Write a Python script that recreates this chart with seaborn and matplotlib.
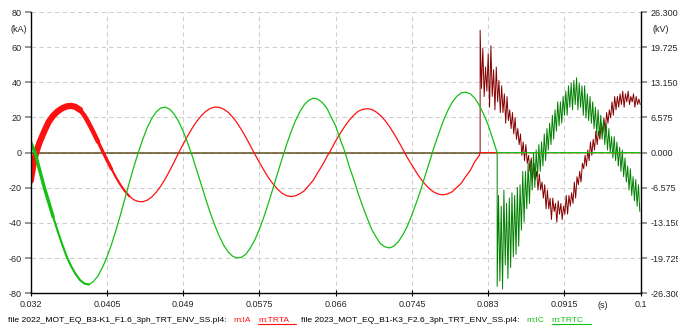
import numpy as np
import matplotlib
matplotlib.use("Agg")
import matplotlib.pyplot as plt
import seaborn as sns
from matplotlib.lines import Line2D

# --- currents (kA), time in ms ---
t_ia = ([32.0, 32.3, 32.6, 33.0, 33.5, 34.0, 34.5, 35.0, 35.5, 36.0, 36.5, 37.0, 37.5, 38.0, 38.5,
         39.0, 39.5, 40.0, 40.5] + list(np.arange(41.0, 82.01, 0.5)) + [82.1, 100.0])
ia = [-16, -7, 0, 6, 12, 17.5, 21, 23.5, 25.2, 26.3, 26.6, 26.0, 24.3, 21.0, 16.5,
      11.5, 6.3, 1.0, -4.2,
      -9.2, -14.0, -18.3, -21.9, -24.8, -26.8, -27.8, -27.9, -27.0, -25.2,
      -22.5, -19.0, -14.9, -10.2, -5.2, 0.0, 4.8, 9.5, 13.9, 17.7,
      20.9, 23.4, 25.1, 25.9, 25.8, 24.8, 23.0, 20.3, 17.0, 13.0,
      8.6, 3.8, -1.0, -5.6, -10.0, -14.2, -17.7, -20.7, -23.0, -24.4,
      -25.0, -24.6, -23.4, -21.7, -18.7, -15.7, -11.3, -7.3, -2.5, 1.9,
      6.7, 10.9, 14.9, 18.4, 21.2, 23.5, 24.6, 25.0, 24.6, 23.2,
      21.1, 18.3, 14.8, 10.8, 6.4, 1.8, -3.0, -7.1, -11.3, -15.0,
      -18.2, -20.8, -22.6, -23.7, -24.0, -23.4, -22.2, -19.8, -17.4, -13.5,
      -10.1, -5.2, -1.6,
      0, 0]

t_ic = list(np.arange(32.0, 83.51, 0.5)) + [84.0, 100.0]
ic = [5.8, -0.2, -10, -19.5, -28, -36.5, -44.5, -52, -59, -64.5, -69, -72.5, -74.5, -75,
      -73.3, -70.1, -65.3, -59.4, -52.3, -44.2, -35.5, -26.2, -16.9, -8.0,
      0.2, 7.7, 14.3, 19.5, 23.2, 25.4, 25.9, 24.7, 21.9, 17.7,
      12.1, 5.5, -1.8, -9.8, -18.0, -26.2, -34.0, -41.0, -47.3, -52.5,
      -56.4, -58.9, -59.9, -59.5, -57.7, -54.1, -49.5, -43.5, -36.5, -28.7,
      -20.5, -12.1, -3.8, 4.2, 11.5, 18.0, 23.2, 27.3, 29.8, 31.0,
      30.4, 28.5, 25.4, 20.3, 15.1, 7.7, 0.8, -7.7, -15.0, -23.1,
      -30.4, -37.1, -43.5, -48.0, -51.9, -53.6, -54.2, -53.1, -50.5, -46.6,
      -41.7, -35.3, -28.3, -20.9, -12.6, -4.6, 3.7, 11.0, 18.1, 24.0,
      28.8, 32.0, 34.0, 34.4, 33.5, 31.0, 27.0, 21.8, 15.7, 8.0,
      0, 0]

# --- transient recovery voltages (kV), sampled every 0.15 ms after the jump ---
volt_step = 0.15
trta_jump = 82.1
trta = [22.9, 12.0, 19.5, 10.5, 16.0, 11.5, 18.5, 8.5, 20.0, 10.5, 15.5, 8.0, 16.0, 9.5, 13.5, 7.5,
        12.5, 7.5, 11.0, 5.5, 10.5, 6.0, 8.0, 4.5, 7.5, 3.5, 6.5, 2.5, 4.5, 1.5, 3.5, -0.5,
        2.0, -1.5, 1.5, -2.0, -0.5, -3.5, -1.0, -5.0, -2.0, -5.0, -3.5, -7.0, -4.0, -7.0, -5.5, -8.5,
        -6.0, -10.5, -7.0, -10.5, -8.5, -12.5, -8.5, -11.0, -9.5, -13.0, -9.0, -11.5, -9.5, -12.5, -10.0, -11.5,
        -8.0, -11.5, -8.0, -10.0, -7.5, -9.5, -5.5, -8.5, -4.5, -6.0, -3.5, -5.5, -2.0, -3.0, -0.5, -2.5,
        0.5, -1.5, 2.0, -0.5, 2.5, 0.5, 4.0, 1.5, 4.0, 2.5, 5.5, 3.5, 6.5, 4.0, 7.5, 5.5,
        8.0, 6.5, 9.5, 7.0, 10.5, 8.0, 10.5, 8.5, 11.0, 9.0, 11.5, 8.5, 11.0, 9.5, 11.5, 9.0,
        10.5, 9.5, 11.0, 8.5, 10.5, 9.0, 10.0, 9.0]
trtc_jump = 84.0
trtc = [-25.0, -8.0, -24.0, -10.0, -25.5, -7.0, -21.0, -9.5, -23.5, -8.5, -21.5, -7.5, -19.5, -8.0, -19.0, -6.5,
        -17.5, -6.0, -14.5, -3.5, -13.0, -3.5, -10.5, -2.0, -9.5, -1.5, -7.0, 0.0, -6.5, 0.5, -4.5, 1.5,
        -3.5, 2.0, -2.5, 3.5, -1.5, 4.5, 0.5, 5.5, 1.5, 7.0, 2.5, 8.0, 4.0, 9.5, 5.0, 9.5,
        5.5, 10.5, 7.0, 11.5, 7.0, 12.5, 8.5, 13.0, 8.0, 13.5, 9.0, 14.0, 8.0, 13.0, 8.5, 12.5,
        7.0, 12.5, 6.5, 11.0, 6.0, 10.5, 5.5, 9.5, 4.5, 8.5, 3.5, 8.0, 3.0, 7.0, 2.5, 6.0,
        1.5, 5.5, 0.5, 4.5, 0.0, 3.0, -1.0, 3.0, -1.5, 2.0, -2.5, 1.0, -3.5, 0.5, -4.5, -1.0,
        -5.5, -2.5, -7.0, -3.0, -8.0, -4.5, -9.0, -5.0, -10.0, -6.0, -11.0]

x_ticks = [0.032, 0.0405, 0.049, 0.0575, 0.066, 0.0745, 0.083, 0.0915, 0.1]
x_labels = ['0.032', '0.0405', '0.049', '0.0575', '0.066', '0.0745', '0.083', '0.0915', '0.1']
ka_ticks = [80, 60, 40, 20, 0, -20, -40, -60, -80]
kv_ticks = [26.3, 19.725, 13.15, 6.575, 0.0, -6.575, -13.15, -19.725, -26.3]
kv_labels = ['26.300', '19.725', '13.150', '6.575', '0.000', '-6.575', '-13.150', '-19.725', '-26.300']

legend_texts = ['file 2022_MOT_EQ_B3-K1_F1.6_3ph_TRT_ENV_SS.pl4:', 'm:IA', 'm:TRTA',
                'file 2023_MOT_EQ_B1-K3_F2.6_3ph_TRT_ENV_SS.pl4:', 'm:IC', 'm:TRTC']

RED = '#ff1010'
GREEN = '#14c014'
DRED = '#850000'
DGREEN = '#008000'

sns.set_style("white")
plt.rcParams['font.family'] = ['Liberation Sans', 'DejaVu Sans']
plt.rcParams['font.size'] = 6.5

W, H = 678, 328
fig = plt.figure(figsize=(W / 100, H / 100), dpi=100)
ax = fig.add_axes([30.7 / W, 34.7 / H, 610 / W, 281.3 / H])
ax2 = ax.twinx()
ax.set_zorder(ax2.get_zorder() + 1)
ax.patch.set_visible(False)

# voltages on the right axis (drawn underneath the currents)
t_a = np.concatenate([[32.0, trta_jump], trta_jump + volt_step * np.arange(len(trta))]) / 1000
v_a = np.concatenate([[0, 0], trta])
t_c = np.concatenate([[32.0, trtc_jump], trtc_jump + volt_step * np.arange(len(trtc))]) / 1000
v_c = np.concatenate([[0, 0], trtc])

sns.lineplot(x=t_c[:2], y=v_c[:2], ax=ax2, color=DGREEN, lw=1.1, alpha=0.6, estimator=None, sort=False)
sns.lineplot(x=t_a[:2], y=v_a[:2], ax=ax2, color=DRED, lw=1.1, alpha=0.5, estimator=None, sort=False)
sns.lineplot(x=t_a[1:], y=v_a[1:], ax=ax2, color=DRED, lw=0.7, estimator=None, sort=False)
sns.lineplot(x=t_c[1:], y=v_c[1:], ax=ax2, color=DGREEN, lw=0.7, estimator=None, sort=False)

# currents on the left axis
t_ia_s = np.array(t_ia) / 1000
t_ic_s = np.array(t_ic) / 1000
ia_arr = np.array(ia)
ic_arr = np.array(ic)
sns.lineplot(x=t_ia_s, y=ia_arr, ax=ax, color=RED, lw=0.9, estimator=None, sort=False)
# numerical noise makes the first cycle look like a thick band
for t_end, lw in [(37.5, 4.5), (39.5, 3.3), (41.0, 2.3), (43.0, 1.5)]:
    m = t_ia_s <= t_end / 1000
    sns.lineplot(x=t_ia_s[m], y=ia_arr[m], ax=ax, color=RED, lw=lw, estimator=None, sort=False)
sns.lineplot(x=t_ic_s, y=ic_arr, ax=ax, color=GREEN, lw=0.9, estimator=None, sort=False)
for t_end, lw in [(34.5, 2.4), (38.5, 1.5)]:
    m = t_ic_s <= t_end / 1000
    sns.lineplot(x=t_ic_s[m], y=ic_arr[m], ax=ax, color=GREEN, lw=lw, estimator=None, sort=False)

ax.set_xlim(0.032, 0.1)
ax.set_ylim(-80, 80)
ax2.set_ylim(-26.3, 26.3)
ax.set_xticks(x_ticks)
ax.set_xticklabels(x_labels)
ax.set_yticks(ka_ticks)
ax.set_yticklabels([str(v) for v in ka_ticks])
ax2.set_yticks(kv_ticks)
ax2.set_yticklabels(kv_labels)
ax.set_xlabel('')
ax.set_ylabel('')
ax2.set_ylabel('')

# grid on the lower axes so it sits behind the traces
ax2.xaxis.set_visible(True)
ax2.tick_params(axis='x', bottom=False, top=False, labelbottom=False, labeltop=False)
ax2.grid(True, axis='both', color='#cfcfcf', lw=0.8, linestyle=(0, (4, 3)))
ax.grid(False)

for s in ['top', 'right']:
    ax.spines[s].set_visible(False)
for s in ['top', 'left', 'bottom']:
    ax2.spines[s].set_visible(False)
for sp in [ax.spines['left'], ax.spines['bottom'], ax2.spines['right']]:
    sp.set_color('black')
    sp.set_linewidth(1.0)

ax.tick_params(axis='y', left=True, direction='out', length=4, width=1.3, color='#8c8c8c', pad=2.3, labelsize=6.5)
ax.tick_params(axis='x', bottom=True, direction='inout', length=5, width=0.8, color='black', pad=2.5, labelsize=6.5)
ax2.tick_params(axis='y', right=True, direction='out', length=4, width=1.3, color='#8c8c8c', pad=3.2, labelsize=6.5)

ax.annotate('(kA)', xy=(0, 70), xycoords=('axes fraction', 'data'), xytext=(-2.8, 0),
            textcoords='offset points', ha='right', va='center', fontsize=6.5)
ax2.annotate('(kV)', xy=(1, 23.0), xycoords=('axes fraction', 'data'), xytext=(8.8, 0),
             textcoords='offset points', ha='left', va='center', fontsize=6.5)
ax.annotate('(s)', xy=(0.09575, 0), xycoords=('data', 'axes fraction'), xytext=(0, -5.3),
            textcoords='offset points', ha='center', va='top', fontsize=6.5)

# file / trace legend along the bottom
legend_colors = ['black', RED, RED, 'black', GREEN, GREEN]
underlined = [False, False, True, False, False, True]
gaps = [7, 7, 5, 7, 7, 0]
fig.canvas.draw()
renderer = fig.canvas.get_renderer()
x_px = 8
base_px = 6.5
for txt, col, ul, gap in zip(legend_texts, legend_colors, underlined, gaps):
    t = fig.text(x_px / W, base_px / H, txt, color=col, fontsize=6.1, ha='left', va='baseline')
    bb = t.get_window_extent(renderer)
    x_end = bb.x1
    if ul:
        x_end = bb.x1 + 7
        fig.add_artist(Line2D([bb.x0 / W, x_end / W], [(base_px - 2) / H, (base_px - 2) / H],
                              color=col, lw=0.8, transform=fig.transFigure))
    x_px = x_end + gap

fig.savefig('out.png', dpi=100, facecolor='white')
